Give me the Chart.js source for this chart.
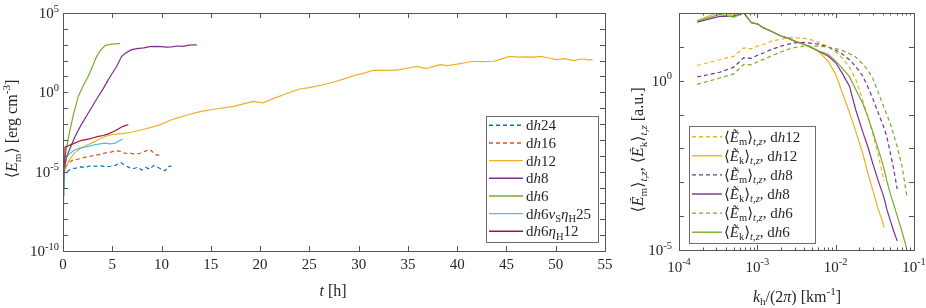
<!DOCTYPE html>
<html>
<head>
<meta charset="utf-8">
<script src="https://cdn.jsdelivr.net/npm/chart.js@4.4.1/dist/chart.umd.min.js"></script>
<style>
  html, body { margin: 0; padding: 0; background: #fff; }
  #wrap { position: relative; width: 926px; height: 308px; }
  canvas { position: absolute; top: 0; }
  #left { left: 0; }
  #right { left: 630px; }
</style>
</head>
<body>
<div id="wrap">
  <canvas id="left" width="630" height="308"></canvas>
  <canvas id="right" width="296" height="308"></canvas>
</div>
<script>
// ---- left panel: magnetic energy vs time (values are log10 of <E_m>) ----
const tDh24 = [0, 0.05, 0.2, 0.5, 0.9, 1.3, 1.8, 2.3, 2.8, 3.3, 3.8, 4.3, 4.8, 5.3, 5.9, 6.3, 6.8, 7.2, 7.6, 8.0, 8.4, 8.8, 9.2, 9.6, 10.0, 10.35, 10.7, 11.0];
const eDh24 = [-5.8, -5.3, -5.1, -4.95, -4.8, -4.78, -4.7, -4.72, -4.63, -4.66, -4.62, -4.7, -4.66, -4.6, -4.43, -4.62, -4.76, -4.8, -4.72, -4.9, -4.74, -4.84, -4.62, -4.72, -4.86, -4.95, -4.68, -4.63];

const tDh16 = [0, 0.05, 0.2, 0.5, 0.9, 1.3, 1.8, 2.3, 2.8, 3.3, 3.8, 4.3, 4.8, 5.3, 5.8, 6.3, 6.8, 7.3, 7.8, 8.3, 8.8, 9.1, 9.4, 9.7, 10.0];
const eDh16 = [-5.6, -5.1, -4.7, -4.5, -4.3, -4.25, -4.17, -4.08, -4.02, -3.95, -3.92, -3.82, -3.78, -3.68, -3.72, -3.85, -3.83, -3.9, -3.84, -3.72, -3.6, -3.76, -3.94, -3.96, -4.0];

const tDh12 = [0, 0.2, 0.6, 1.2, 2.0, 2.9, 3.5, 4.3, 5.0, 6.0, 7.0, 8.0, 9.3, 10.0, 11.0, 12.0, 12.7, 14.0, 15.5, 17.3, 18.5, 19.3, 20.3, 21.3, 22.4, 23.5, 24.0, 25.0, 26.4, 27.5, 28.5, 29.8, 30.5, 31.5, 32.5, 33.5, 34.2, 35.2, 35.9, 36.9, 37.5, 38.3, 39.0, 40.3, 41.0, 41.6, 42.5, 43.7, 44.3, 45.3, 46.2, 47.0, 47.8, 48.4, 49.2, 50.1, 50.9, 51.8, 52.4, 52.8, 53.3, 53.75];
const eDh12 = [-6.0, -4.9, -4.3, -3.8, -3.45, -3.2, -3.0, -2.78, -2.65, -2.6, -2.5, -2.36, -2.15, -2.0, -1.73, -1.55, -1.41, -1.2, -1.05, -0.89, -0.7, -0.57, -0.67, -0.4, -0.15, 0.1, 0.21, 0.3, 0.48, 0.65, 0.85, 1.11, 1.2, 1.39, 1.38, 1.4, 1.43, 1.55, 1.64, 1.49, 1.62, 1.75, 1.68, 1.81, 1.88, 1.96, 1.93, 1.96, 2.06, 2.27, 2.22, 2.23, 2.22, 2.27, 2.18, 2.06, 2.12, 2.0, 2.08, 2.1, 2.05, 2.06];

const tDh8 = [0, 0.1, 0.37, 0.8, 1.22, 1.8, 2.57, 3.1, 3.58, 4.1, 4.6, 5.0, 5.45, 5.95, 6.4, 6.97, 7.5, 8.2, 8.8, 9.34, 10.0, 10.5, 11.03, 11.6, 12.2, 12.8, 13.4, 13.6];
const eDh8 = [-6.0, -5.0, -4.05, -3.4, -2.78, -2.1, -1.3, -0.75, -0.26, 0.25, 0.8, 1.2, 1.64, 2.27, 2.5, 2.69, 2.75, 2.8, 2.88, 2.9, 2.88, 2.85, 2.86, 2.92, 2.9, 2.98, 3.0, 2.97];

const tDh6 = [0, 0.1, 0.2, 0.45, 0.71, 1.1, 1.55, 2.0, 2.57, 3.0, 3.42, 3.8, 4.26, 4.8, 5.3, 5.78];
const eDh6 = [-6.0, -5.0, -4.07, -3.2, -2.36, -1.3, -0.26, 0.35, 1.01, 1.65, 2.27, 2.65, 2.95, 3.02, 3.05, 3.07];

const tDh6Nu = [0, 0.1, 0.2, 0.6, 1.2, 1.8, 2.57, 3.3, 4.26, 4.8, 5.3, 5.7, 6.05];
const eDh6Nu = [-6.5, -5.3, -4.25, -3.9, -3.62, -3.5, -3.41, -3.3, -3.2, -3.25, -3.2, -3.05, -2.95];

const tDh6Eta = [0, 0.05, 0.12, 0.2, 0.6, 1.0, 1.55, 1.9, 2.57, 3.1, 3.58, 4.1, 4.6, 5.0, 5.3, 5.95, 6.3, 6.63];
const eDh6Eta = [-7.4, -5.6, -4.4, -3.45, -3.35, -3.25, -3.1, -3.03, -2.95, -2.86, -2.78, -2.72, -2.62, -2.5, -2.42, -2.18, -2.1, -2.04];

const leftXTicks = [0, 5, 10, 15, 20, 25, 30, 35, 40, 45, 50, 55];
const leftYDecades = [-10, -9, -8, -7, -6, -5, -4, -3, -2, -1, 0, 1, 2, 3, 4, 5];
const leftYLabels = [-10, -5, 0, 5];

// ---- right panel: spectra vs k_h/(2 pi) (values are log10) ----
const kh = [1.7e-4, 3.3e-4, 5e-4, 6.7e-4, 8.4e-4, 1.0e-3, 1.2e-3, 1.5e-3, 2e-3, 2.5e-3, 3e-3, 4e-3, 5e-3, 6e-3, 8e-3, 1e-2, 1.2e-2, 1.5e-2, 1.8e-2, 2.2e-2, 2.6e-2, 3e-2, 3.5e-2, 4e-2, 4.15e-2, 4.5e-2, 5e-2, 5.5e-2, 6.1e-2, 7e-2, 8.1e-2];
const emDh12 = [0.45, 0.62, 0.72, 0.97, 0.94, 1.02, 1.07, 1.17, 1.22, 1.27, 1.27, 1.25, 1.2, 1.14, 1.0, 0.85, 0.68, 0.4, 0.05, -0.55, -1.09, -1.6, -2.2, -2.8, -2.96];
const ekDh12 = [1.77, 2.04, 1.93, 2.02, 1.71, 1.68, 1.56, 1.46, 1.32, 1.25, 1.17, 1.07, 0.97, 0.87, 0.58, 0.19, -0.32, -0.94, -1.49, -2.12, -2.76, -3.26, -3.8, -4.19, -4.34];
const emDh8 = [0.11, 0.25, 0.4, 0.68, 0.66, 0.75, 0.82, 0.92, 1.02, 1.08, 1.12, 1.13, 1.1, 1.08, 1.0, 0.9, 0.8, 0.62, 0.42, 0.15, -0.2, -0.55, -0.95, -1.3, -1.4, -1.65, -2.15, -2.6, -3.2];
const ekDh8 = [1.73, 1.9, 1.9, 2.0, 1.71, 1.68, 1.56, 1.46, 1.32, 1.25, 1.17, 1.07, 0.97, 0.88, 0.73, 0.53, 0.24, -0.16, -0.85, -1.49, -1.98, -2.47, -2.96, -3.35, -3.46, -3.8, -4.14, -4.44, -4.73];
const emDh6 = [-0.11, 0.08, 0.2, 0.48, 0.47, 0.56, 0.63, 0.73, 0.85, 0.93, 0.98, 1.02, 1.02, 1.02, 0.99, 0.95, 0.9, 0.8, 0.7, 0.5, 0.3, 0.05, -0.35, -0.7, -0.8, -1.0, -1.28, -1.6, -1.95, -2.5, -3.4];
const ekDh6 = [1.76, 1.96, 1.88, 2.0, 1.71, 1.68, 1.56, 1.46, 1.32, 1.25, 1.17, 1.07, 0.97, 0.88, 0.78, 0.58, 0.38, 0.12, -0.25, -0.65, -1.09, -1.53, -2.03, -2.47, -2.6, -2.96, -3.35, -3.65, -3.99, -4.44, -4.98];

const rightXDecades = [-4, -3, -2, -1];
const rightYDecades = [-5, -4, -3, -2, -1, 0, 1, 2];
const rightYLabels = [-5, 0];

// ---- styling ----
const C = { blue: '#0072BD', orange: '#D95319', yellow: '#EDB120', purple: '#7E2F8E', green: '#77AC30', cyan: '#4DBEEE', red: '#A2142F' };
const AXIS = '#555555';
const TXT = '#262626';
const FONT = '"Liberation Serif", "DejaVu Serif", serif';
const DASH = [4, 3];
const LW = 1.2;
const TICK_FS = 15;
const TITLE_FS = 16;
const LEG_FS = 15;

// rich text helpers: plain, italic, sub, sup
const R = t => ({ t });
const I = t => ({ t, i: true });
const SB = t => ({ t, sub: true });
const SBI = t => ({ t, sub: true, i: true });
const SP = t => ({ t, sup: true });

function partFont(p, size) {
  const s = (p.sub || p.sup) ? size * 0.7 : size;
  return (p.i ? 'italic ' : '') + s.toFixed(1) + 'px ' + FONT;
}
function richWidth(ctx, parts, size) {
  let w = 0;
  parts.forEach(p => { ctx.font = partFont(p, size); w += ctx.measureText(p.t).width; });
  return w;
}
function drawRich(ctx, parts, x, y, size, align) {
  const w = richWidth(ctx, parts, size);
  let cx = align === 'center' ? x - w / 2 : align === 'right' ? x - w : x;
  ctx.textAlign = 'left';
  ctx.textBaseline = 'alphabetic';
  ctx.fillStyle = TXT;
  parts.forEach(p => {
    ctx.font = partFont(p, size);
    const dy = p.sup ? -size * 0.42 : p.sub ? size * 0.22 : 0;
    ctx.fillText(p.t, cx, y + dy);
    cx += ctx.measureText(p.t).width;
  });
}
function pow10Label(e) { return [R('10'), SP(String(e))]; }

function frameBox(ctx, a) {
  ctx.strokeStyle = AXIS;
  ctx.lineWidth = 1;
  ctx.setLineDash([]);
  ctx.strokeRect(Math.round(a.left) + 0.5, Math.round(a.top) + 0.5,
                 Math.round(a.right) - Math.round(a.left), Math.round(a.bottom) - Math.round(a.top));
}
function xTick(ctx, a, px, len) {
  const x = Math.round(px) + 0.5;
  ctx.beginPath();
  ctx.moveTo(x, a.bottom); ctx.lineTo(x, a.bottom - len);
  ctx.moveTo(x, a.top); ctx.lineTo(x, a.top + len);
  ctx.stroke();
}
function yTick(ctx, a, py, len) {
  const y = Math.round(py) + 0.5;
  ctx.beginPath();
  ctx.moveTo(a.left, y); ctx.lineTo(a.left + len, y);
  ctx.moveTo(a.right, y); ctx.lineTo(a.right - len, y);
  ctx.stroke();
}
function drawLegend(ctx, box, rows, x0, x1, tx, y0, dy, size) {
  ctx.fillStyle = '#fff';
  ctx.fillRect(box[0], box[1], box[2], box[3]);
  ctx.strokeStyle = '#6e6e6e';
  ctx.lineWidth = 1;
  ctx.setLineDash([]);
  ctx.strokeRect(box[0] + 0.5, box[1] + 0.5, box[2], box[3]);
  rows.forEach((r, i) => {
    const y = y0 + i * dy;
    ctx.strokeStyle = r.color;
    ctx.lineWidth = 1.4;
    ctx.setLineDash(r.dash ? DASH : []);
    ctx.beginPath(); ctx.moveTo(x0, y); ctx.lineTo(x1, y); ctx.stroke();
    ctx.setLineDash([]);
    drawRich(ctx, r.parts, tx, y + size * 0.33, size, 'left');
  });
}
function drawRotated(ctx, parts, x, y, size) {
  ctx.save();
  ctx.translate(x, y);
  ctx.rotate(-Math.PI / 2);
  drawRich(ctx, parts, 0, 0, size, 'center');
  ctx.restore();
}

const toPts = (xs, lg) => xs.map((x, i) => ({ x, y: Math.pow(10, lg[i]) }));
const line = (label, data, color, dash, order) => ({
  label, data, borderColor: color, borderWidth: LW, borderDash: dash ? DASH : [],
  pointRadius: 0, tension: 0, fill: false, order
});

// ---- left chart ----
const leftRows = [
  { color: C.blue, dash: true, parts: [R('d'), I('h'), R('24')] },
  { color: C.orange, dash: true, parts: [R('d'), I('h'), R('16')] },
  { color: C.yellow, parts: [R('d'), I('h'), R('12')] },
  { color: C.purple, parts: [R('d'), I('h'), R('8')] },
  { color: C.green, parts: [R('d'), I('h'), R('6')] },
  { color: C.cyan, parts: [R('d'), I('h'), R('6'), I('ν'), SB('S'), I('η'), SB('H'), R('25')] },
  { color: C.red, parts: [R('d'), I('h'), R('6'), I('η'), SB('H'), R('12')] }
];

const leftDecor = {
  id: 'leftDecor',
  afterDraw(chart) {
    const { ctx, chartArea: a, scales } = chart;
    ctx.save();
    frameBox(ctx, a);
    leftXTicks.forEach(v => xTick(ctx, a, scales.x.getPixelForValue(v), 5));
    leftYDecades.forEach(e => yTick(ctx, a, scales.y.getPixelForValue(Math.pow(10, e)), 5));
    leftXTicks.forEach(v => drawRich(ctx, [R(String(v))], scales.x.getPixelForValue(v), 269, TICK_FS, 'center'));
    leftYLabels.forEach(e => drawRich(ctx, pow10Label(e), 59, scales.y.getPixelForValue(Math.pow(10, e)) + 5, TICK_FS, 'right'));
    drawRich(ctx, [I('t'), R(' [h]')], 333, 296, TITLE_FS, 'center');
    drawRotated(ctx, [R('⟨'), I('E'), SB('m'), R('⟩ [erg cm'), SP('-3'), R(']')], 17, 129, TITLE_FS);
    drawLegend(ctx, [486, 116, 112, 126], leftRows, 489, 523, 526, 125.3, 17.67, LEG_FS);
    ctx.restore();
  }
};

new Chart(document.getElementById('left'), {
  type: 'line',
  data: {
    datasets: [
      line('dh24', toPts(tDh24, eDh24), C.blue, true, 7),
      line('dh16', toPts(tDh16, eDh16), C.orange, true, 6),
      line('dh12', toPts(tDh12, eDh12), C.yellow, false, 5),
      line('dh8', toPts(tDh8, eDh8), C.purple, false, 4),
      line('dh6', toPts(tDh6, eDh6), C.green, false, 3),
      line('dh6nuS etaH25', toPts(tDh6Nu, eDh6Nu), C.cyan, false, 2),
      line('dh6 etaH12', toPts(tDh6Eta, eDh6Eta), C.red, false, 1)
    ]
  },
  options: {
    responsive: false,
    animation: false,
    devicePixelRatio: 1,
    layout: { padding: { left: 63, right: 25, top: 13, bottom: 57 } },
    scales: {
      x: { type: 'linear', min: 0, max: 55, display: false },
      y: { type: 'logarithmic', min: 1e-10, max: 1e5, display: false }
    },
    plugins: { legend: { display: false }, tooltip: { enabled: false } }
  },
  plugins: [leftDecor]
});

// ---- right chart ----
const emParts = s => [R('⟨'), I('Ẽ'), SB('m'), R('⟩'), SBI('t,z'), R(', d'), I('h'), R(s)];
const ekParts = s => [R('⟨'), I('Ẽ'), SB('k'), R('⟩'), SBI('t,z'), R(', d'), I('h'), R(s)];
const rightRows = [
  { color: C.yellow, dash: true, parts: emParts('12') },
  { color: C.yellow, parts: ekParts('12') },
  { color: C.purple, dash: true, parts: emParts('8') },
  { color: C.purple, parts: ekParts('8') },
  { color: C.green, dash: true, parts: emParts('6') },
  { color: C.green, parts: ekParts('6') }
];

const rightDecor = {
  id: 'rightDecor',
  afterDraw(chart) {
    const { ctx, chartArea: a, scales } = chart;
    ctx.save();
    frameBox(ctx, a);
    rightXDecades.forEach(d => {
      xTick(ctx, a, scales.x.getPixelForValue(Math.pow(10, d)), 5);
      if (d < -1) for (let m = 2; m <= 9; m++) xTick(ctx, a, scales.x.getPixelForValue(m * Math.pow(10, d)), 2.5);
    });
    rightYDecades.forEach(e => yTick(ctx, a, scales.y.getPixelForValue(Math.pow(10, e)), 5));
    rightXDecades.forEach(d => drawRich(ctx, pow10Label(d), scales.x.getPixelForValue(Math.pow(10, d)), 271.5, TICK_FS, 'center'));
    rightYLabels.forEach(e => drawRich(ctx, pow10Label(e), 42, scales.y.getPixelForValue(Math.pow(10, e)) + 5, TICK_FS, 'right'));
    drawRich(ctx, [I('k'), SB('h'), R('/(2'), I('π'), R(') [km'), SP('-1'), R(']')], 167, 301.5, TITLE_FS, 'center');
    drawRotated(ctx, [R('⟨'), I('Ẽ'), SB('m'), R('⟩'), SBI('t,z'), R(', ⟨'), I('Ẽ'), SB('k'), R('⟩'), SBI('t,z'), R(' [a.u.]')], 13, 150, TITLE_FS);
    drawLegend(ctx, [59, 126, 126, 117], rightRows, 62, 92, 94, 136.7, 19.1, LEG_FS);
    ctx.restore();
  }
};

new Chart(document.getElementById('right'), {
  type: 'line',
  data: {
    datasets: [
      line('Em dh12', toPts(kh, emDh12), C.yellow, true, 6),
      line('Ek dh12', toPts(kh, ekDh12), C.yellow, false, 5),
      line('Em dh8', toPts(kh, emDh8), C.purple, true, 4),
      line('Ek dh8', toPts(kh, ekDh8), C.purple, false, 3),
      line('Em dh6', toPts(kh, emDh6), C.green, true, 2),
      line('Ek dh6', toPts(kh, ekDh6), C.green, false, 1)
    ]
  },
  options: {
    responsive: false,
    animation: false,
    devicePixelRatio: 1,
    layout: { padding: { left: 49, right: 12, top: 13, bottom: 58 } },
    scales: {
      x: { type: 'logarithmic', min: 1e-4, max: 1e-1, display: false },
      y: { type: 'logarithmic', min: 1e-5, max: 1e2, display: false }
    },
    plugins: { legend: { display: false }, tooltip: { enabled: false } }
  },
  plugins: [rightDecor]
});
</script>
</body>
</html>
